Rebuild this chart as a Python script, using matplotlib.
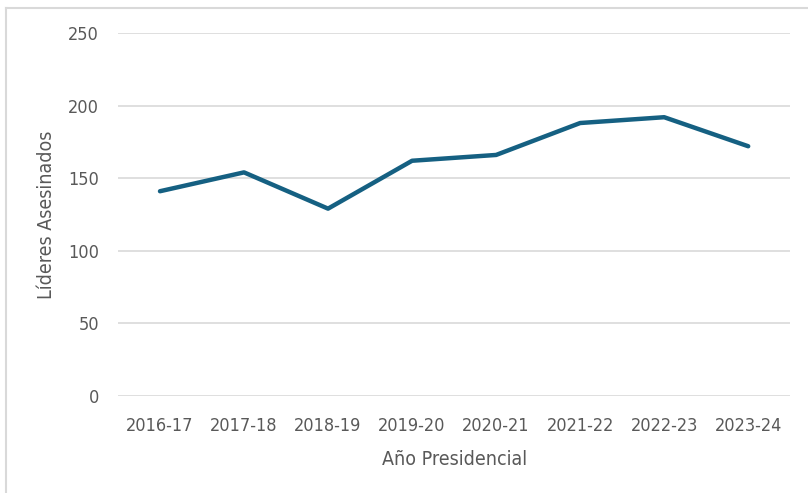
import matplotlib as mpl
import matplotlib.pyplot as plt
from matplotlib.lines import Line2D

mpl.rcParams['font.family'] = ['DejaVu Sans']
mpl.rcParams['font.stretch'] = 'condensed'

years = ["2016-17", "2017-18", "2018-19", "2019-20", "2020-21", "2021-22", "2022-23", "2023-24"]
lideres = [141, 154, 129, 162, 166, 188, 192, 172]
yticks = [0, 50, 100, 150, 200, 250]

fig = plt.figure(figsize=(8.08, 4.93), dpi=100)
# chart area border (left and top edges visible in the crop)
fig.add_artist(Line2D([6 / 808, 6 / 808], [0, 1 - 8 / 493], transform=fig.transFigure,
                      color='#d9d9d9', linewidth=1.5))
fig.add_artist(Line2D([6 / 808, 1], [1 - 8 / 493, 1 - 8 / 493], transform=fig.transFigure,
                      color='#d9d9d9', linewidth=1.5))
ax = fig.add_axes([0.146, 0.197, 0.832, 0.736])

ax.plot(range(len(years)), lideres, color='#156082', linewidth=3.2, solid_capstyle='round',
        solid_joinstyle='round', zorder=3)

ax.set_xlim(-0.5, len(years) - 0.5)
ax.set_ylim(0, 250)
ax.set_yticks(yticks)
ax.set_xticks(range(len(years)))
ax.set_xticklabels(years)
ax.grid(axis='y', color='#d9d9d9', linewidth=1.2)
ax.set_axisbelow(True)
for s in ax.spines.values():
    s.set_visible(False)
ax.tick_params(length=0, colors='#595959', labelsize=13)
ax.tick_params(axis='y', pad=13.5)
ax.tick_params(axis='x', pad=15)

ax.set_xlabel("Año Presidencial", color='#595959', fontsize=14, labelpad=11)
ax.set_ylabel("Líderes Asesinados", color='#595959', fontsize=14, labelpad=9)

fig.savefig("out.png", dpi=100)
